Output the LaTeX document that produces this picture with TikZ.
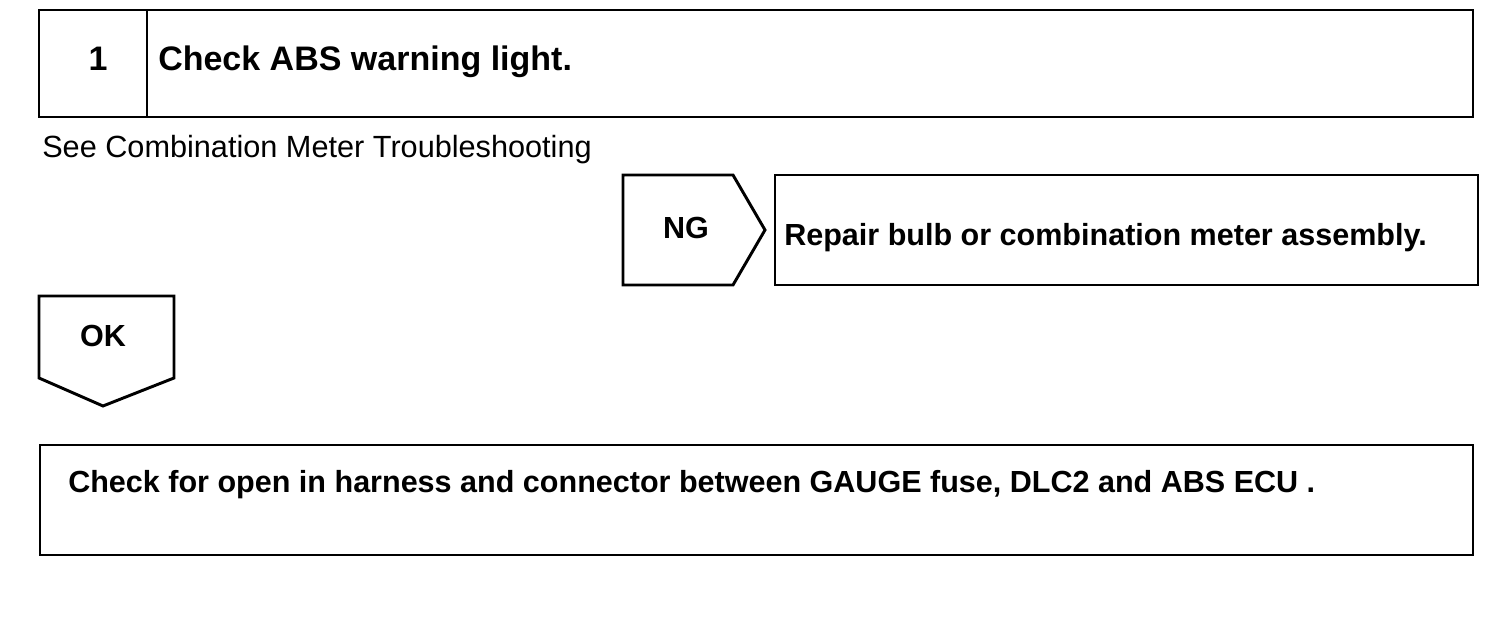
\documentclass[tikz,border=0pt]{standalone}
\usepackage{fontspec}
\setmainfont{Liberation Sans}
\usetikzlibrary{calc}

\begin{document}
\begin{tikzpicture}[x=0.75pt,y=0.75pt,yscale=-1,xscale=1,
  frame/.style={line width=2.2pt, line join=miter},
  headtxt/.style={inner sep=0.75pt, font=\fontsize{25.5}{30}\selectfont\bfseries},
  bodytxt/.style={inner sep=0.75pt, font=\fontsize{22.9}{27}\selectfont\bfseries},
  notetxt/.style={inner sep=0.75pt, font=\fontsize{23}{27}\selectfont}]
\useasboundingbox (0,0) rectangle (1504,634);

%Shape: Rectangle [step 1]
\draw [frame] (39,10) rectangle (1473,117) ;
%Straight Lines [divider]
\draw [frame] (147,10) -- (147,117) ;
%Shape: Pentagon [NG]
\draw [frame] (623,175) -- (733,175) -- (765,230) -- (733,285) -- (623,285) -- cycle ;
%Shape: Rectangle [repair]
\draw [frame] (775,175) rectangle (1478,285) ;
%Shape: Pentagon [OK]
\draw [frame] (39,296) -- (174,296) -- (174,378) -- (103,406) -- (39,378) -- cycle ;
%Shape: Rectangle [step 2]
\draw [frame] (40,445) rectangle (1473,555) ;

% Text Node
\node (num) [headtxt, anchor=base] at (98,71) {1};
% Text Node
\node (head) [headtxt, anchor=base west] at (157,71) {Check ABS warning light.};
% Text Node
\node (note) [notetxt, anchor=base west] at (41,158) {See Combination Meter Troubleshooting};
% Text Node
\node (ng) [bodytxt, anchor=base] at (686,239) {NG};
% Text Node
\node (repair) [bodytxt, anchor=base west] at (783,246) {Repair bulb or combination meter assembly.};
% Text Node
\node (ok) [bodytxt, anchor=base] at (103,347) {OK};
% Text Node
\node (open) [bodytxt, anchor=base west] at (67,493) {Check for open in harness and connector between GAUGE fuse, DLC2 and ABS ECU .};

\end{tikzpicture}
\end{document}
